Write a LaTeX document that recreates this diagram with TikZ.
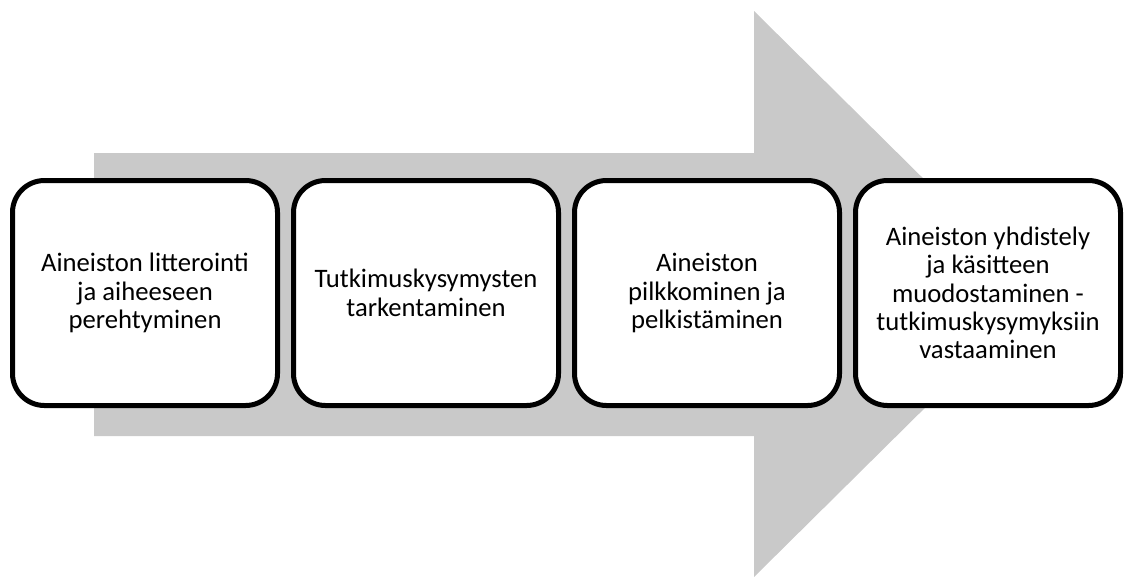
\documentclass[tikz,border=0pt]{standalone}
\usepackage{fontspec}
\setmainfont{Carlito}
\usetikzlibrary{positioning}
\definecolor{arrowgrey}{RGB}{201,201,201}

\begin{document}
\begin{tikzpicture}[x=0.75pt, y=-0.75pt,
    stepbox/.style={draw=black, line width=3.75pt, fill=white, rounded corners=24pt,
        minimum width=198.75pt, minimum height=168.75pt, inner sep=0pt,
        align=center, font=\fontsize{20}{21.3}\selectfont}]
    \useasboundingbox (0,0) rectangle (1124,576);
    \coordinate (O) at (145,293);
    \pgfmathsetmacro{\shaftTop}{153}  % units of pixels
    \pgfmathsetmacro{\shaftBottom}{436}  % units of pixels
    \pgfmathsetmacro{\headX}{754}  % units of pixels
    % big grey arrow behind the steps
    \fill[arrowgrey] (94,\shaftTop) -- (\headX,\shaftTop) -- (\headX,11) -- (1040,294)
        -- (\headX,577) -- (\headX,\shaftBottom) -- (94,\shaftBottom) -- cycle;
    \node[stepbox] (litterointi) at (O) {Aineiston litterointi\\ja aiheeseen\\perehtyminen};
    \node[stepbox, right=8.25pt of litterointi] (tarkentaminen) {Tutkimuskysymysten\\tarkentaminen};
    \node[stepbox, right=8.25pt of tarkentaminen] (pilkkominen) {Aineiston\\pilkkominen ja\\pelkistäminen};
    \node[stepbox, right=8.25pt of pilkkominen] (yhdistely) {Aineiston yhdistely\\ja käsitteen\\muodostaminen -\\tutkimuskysymyksiin\\vastaaminen};
\end{tikzpicture}
\end{document}
